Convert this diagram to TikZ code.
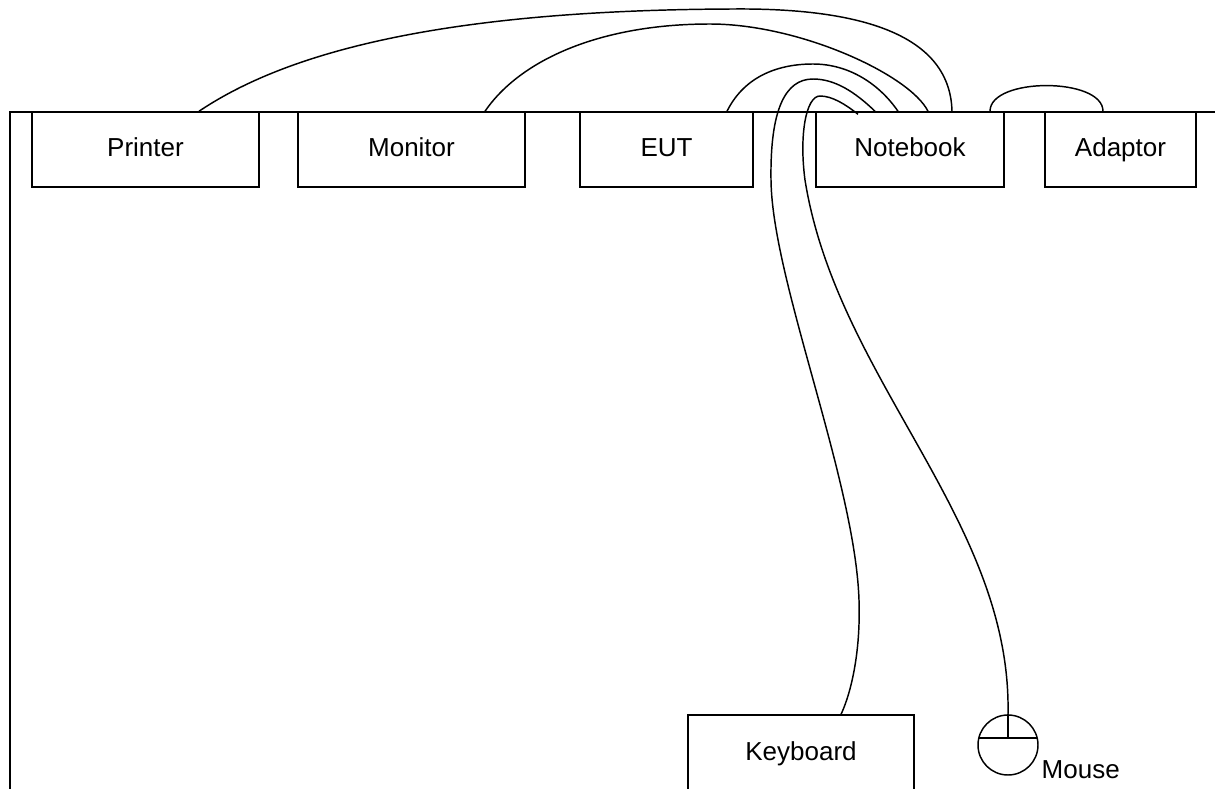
\documentclass[tikz,border=0pt]{standalone}
\usepackage{fontspec}
\setmainfont{Liberation Sans}
\usetikzlibrary{calc}
\begin{document}
\begin{tikzpicture}[x=0.75pt,y=-0.75pt,
  line width=1.1pt,
  lbl/.style={font=\fontsize{19.5}{23}\selectfont, text height=14.5pt, text depth=3.5pt},
  box/.style={draw, inner sep=0pt, minimum height=56.25pt, lbl},
  cable/.style={line width=1.1pt}]
\useasboundingbox (0,0) rectangle (1215,789);
% table edge
\coordinate (tl) at (10,112);
\coordinate (tr) at (1215,112);
\coordinate (bl) at (10,789);
\draw (bl) -- (tl) -- (tr);
% devices
\node[box, minimum width=170.25pt] (printer) at (145.5,149.5) {Printer};
\node[box, minimum width=170.25pt] (monitor) at (411.5,149.5) {Monitor};
\node[box, minimum width=129.75pt] (eut) at (666.5,149.5) {EUT};
\node[box, minimum width=141pt] (notebook) at (910,149.5) {Notebook};
\node[box, minimum width=113.25pt] (adaptor) at (1120.5,149.5) {Adaptor};
\node[box, minimum width=169.5pt, minimum height=57pt] (keyboard) at (801,753) {Keyboard};
\node[circle, draw, inner sep=0pt, minimum size=45pt] (mouse) at (1008,745) {};
\node[lbl, anchor=west, inner sep=0pt] (mouselabel) at (1041,771) {Mouse};
\draw ($(mouse.center)+(-29.2,-7)$) -- ($(mouse.center)+(29.2,-7)$);
\draw (mouse.north) -- ($(mouse.center)+(0,-7)$);
% cables
\draw[cable] ($(printer.north)+(53.5,0)$) .. controls (290,50) and (450,10) .. (733,9)
  .. controls (850,8) and (950,30) .. ($(notebook.north)+(42,0)$);
\draw[cable] ($(monitor.north)+(73.5,0)$) .. controls (520,60) and (600,24) .. (710,24)
  .. controls (800,24) and (910,75) .. ($(notebook.north)+(18,0)$);
\draw[cable] ($(eut.north)+(60.5,0)$) .. controls (745,75) and (780,64) .. (813,64)
  .. controls (850,64) and (880,85) .. ($(notebook.north)+(-12,0)$);
\draw[cable] ($(notebook.north)+(-35,0)$) .. controls (855,92) and (835,79) .. (813,79)
  .. controls (785,79) and (770,110) .. (771,180)
  .. controls (772,280) and (855,480) .. (859,600)
  .. controls (861,660) and (848,700) .. ($(keyboard.north)+(40,0)$);
\draw[cable] ($(notebook.north)+(-52,3)$) .. controls (845,104) and (832,96) .. (820,96)
  .. controls (806,96) and (799,135) .. (805,180)
  .. controls (837,380) and (1012,520) .. (mouse.north);
\draw[cable] ($(notebook.north)+(80,0)$) .. controls (990,77) and (1103,77) .. ($(adaptor.north)+(-17.5,0)$);
\end{tikzpicture}
\end{document}
